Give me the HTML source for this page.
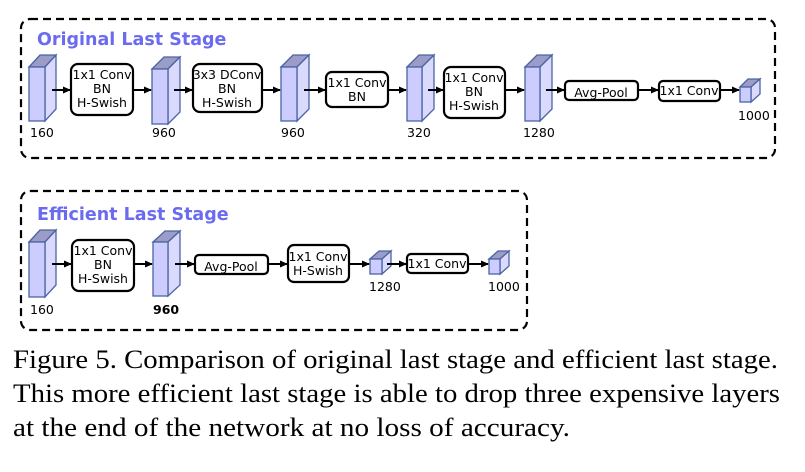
<!DOCTYPE html>
<html><head><meta charset="utf-8"><style>
html,body{margin:0;padding:0;background:#fff;width:805px;height:472px;overflow:hidden}
svg{display:block}
.t{font-family:"DejaVu Sans","Liberation Sans",sans-serif;font-size:12.5px;fill:#000}
.ttl{font-family:"DejaVu Sans","Liberation Sans",sans-serif;font-size:17.5px;font-weight:bold;fill:#6b6bf0}
.cap{font-family:"Liberation Serif",serif;font-size:26px;fill:#000}
.bx{fill:#fff;stroke:#000;stroke-width:2.2}
.ln{stroke:#000;stroke-width:2}
.cf{fill:#ccccff;stroke:#4a64a0;stroke-width:1.3}
.ct{fill:#9c9cc8;stroke:#4a64a0;stroke-width:1.3}
.cr{fill:#dadaff;stroke:#4a64a0;stroke-width:1.3}
</style></head><body>
<svg width="805" height="472" viewBox="0 0 805 472">
<defs><marker id="a" markerWidth="8" markerHeight="8" refX="7" refY="4" orient="auto" markerUnits="userSpaceOnUse"><path d="M0,0.5 L8,4 L0,7.5 z" fill="#000"/></marker></defs>
<rect x="21" y="19" width="754" height="139" rx="9" fill="none" stroke="#000" stroke-width="2.2" stroke-dasharray="8,5"/>
<text class="ttl" x="37" y="45">Original Last Stage</text>
<g>
<polygon class="ct" points="29,67 40,55 56,55 45,67"/><polygon class="cr" points="45,67 56,55 56,109 45,121"/><rect class="cf" x="29" y="67" width="16" height="54"/>
<polygon class="ct" points="152,69 164,57 180,57 168,69"/><polygon class="cr" points="168,69 180,57 180,112 168,124"/><rect class="cf" x="152" y="69" width="16" height="55"/>
<polygon class="ct" points="281,67 293,55 309,55 297,67"/><polygon class="cr" points="297,67 309,55 309,109 297,121"/><rect class="cf" x="281" y="67" width="16" height="54"/>
<polygon class="ct" points="407,67 419,55 434,55 422,67"/><polygon class="cr" points="422,67 434,55 434,109 422,121"/><rect class="cf" x="407" y="67" width="15" height="54"/>
<polygon class="ct" points="525,67 537,55 552,55 540,67"/><polygon class="cr" points="540,67 552,55 552,109 540,121"/><rect class="cf" x="525" y="67" width="15" height="54"/>
<polygon class="ct" points="740,87 748,79 760,79 751,87"/><polygon class="cr" points="751,87 760,79 760,94 751,102"/><rect class="cf" x="740" y="87" width="11" height="15"/>
</g>
<line class="ln" x1="52" y1="90" x2="70" y2="90" marker-end="url(#a)"/>
<line class="ln" x1="133" y1="90" x2="151" y2="90" marker-end="url(#a)"/>
<line class="ln" x1="174" y1="90" x2="192" y2="90" marker-end="url(#a)"/>
<line class="ln" x1="262" y1="90" x2="280" y2="90" marker-end="url(#a)"/>
<line class="ln" x1="304" y1="90" x2="325" y2="90" marker-end="url(#a)"/>
<line class="ln" x1="388" y1="90" x2="406" y2="90" marker-end="url(#a)"/>
<line class="ln" x1="428" y1="90" x2="443" y2="90" marker-end="url(#a)"/>
<line class="ln" x1="505" y1="90" x2="524" y2="90" marker-end="url(#a)"/>
<line class="ln" x1="546" y1="90" x2="564" y2="90" marker-end="url(#a)"/>
<line class="ln" x1="638" y1="90" x2="658" y2="90" marker-end="url(#a)"/>
<line class="ln" x1="720" y1="90" x2="739" y2="90" marker-end="url(#a)"/>
<rect class="bx" x="71" y="64" width="62" height="51" rx="7"/>
<text class="t" x="102" y="79" text-anchor="middle">1x1 Conv</text><text class="t" x="102" y="93" text-anchor="middle">BN</text><text class="t" x="102" y="107" text-anchor="middle">H-Swish</text>
<rect class="bx" x="193" y="64" width="69" height="48" rx="7"/>
<text class="t" x="227" y="79" text-anchor="middle">3x3 DConv</text><text class="t" x="227" y="93" text-anchor="middle">BN</text><text class="t" x="227" y="107" text-anchor="middle">H-Swish</text>
<rect class="bx" x="326" y="72" width="62" height="35" rx="6"/>
<text class="t" x="357" y="87" text-anchor="middle">1x1 Conv</text><text class="t" x="357" y="101" text-anchor="middle">BN</text>
<rect class="bx" x="444" y="67" width="61" height="51" rx="7"/>
<text class="t" x="474" y="82" text-anchor="middle">1x1 Conv</text><text class="t" x="474" y="96" text-anchor="middle">BN</text><text class="t" x="474" y="110" text-anchor="middle">H-Swish</text>
<rect class="bx" x="565" y="81" width="73" height="19" rx="4"/>
<text class="t" x="601" y="97" text-anchor="middle">Avg-Pool</text>
<rect class="bx" x="659" y="81" width="61" height="20" rx="4"/>
<text class="t" x="689" y="95" text-anchor="middle">1x1 Conv</text>
<text class="t" x="30" y="137">160</text>
<text class="t" x="152" y="137">960</text>
<text class="t" x="281" y="137">960</text>
<text class="t" x="407" y="137">320</text>
<text class="t" x="523" y="137">1280</text>
<text class="t" x="738" y="120">1000</text>

<rect x="21" y="191" width="506" height="139" rx="9" fill="none" stroke="#000" stroke-width="2.2" stroke-dasharray="8,5"/>
<text class="ttl" x="37" y="220">Efficient Last Stage</text>
<polygon class="ct" points="29,242 40,230 56,230 45,242"/><polygon class="cr" points="45,242 56,230 56,285 45,297"/><rect class="cf" x="29" y="242" width="16" height="55"/>
<polygon class="ct" points="153,242 165,231 180,231 168,242"/><polygon class="cr" points="168,242 180,231 180,285 168,296"/><rect class="cf" x="153" y="242" width="15" height="54"/>
<polygon class="ct" points="370,259 379,251 391,251 382,259"/><polygon class="cr" points="382,259 391,251 391,266 382,274"/><rect class="cf" x="370" y="259" width="12" height="15"/>
<polygon class="ct" points="489,259 498,251 509,251 500,259"/><polygon class="cr" points="500,259 509,251 509,266 500,274"/><rect class="cf" x="489" y="259" width="11" height="15"/>
<line class="ln" x1="52" y1="264" x2="71" y2="264" marker-end="url(#a)"/>
<line class="ln" x1="134" y1="264" x2="152" y2="264" marker-end="url(#a)"/>
<line class="ln" x1="175" y1="264" x2="194" y2="264" marker-end="url(#a)"/>
<line class="ln" x1="268" y1="264" x2="287" y2="264" marker-end="url(#a)"/>
<line class="ln" x1="349" y1="264" x2="369" y2="264" marker-end="url(#a)"/>
<line class="ln" x1="387" y1="264" x2="406" y2="264" marker-end="url(#a)"/>
<line class="ln" x1="468" y1="264" x2="488" y2="264" marker-end="url(#a)"/>
<rect class="bx" x="72" y="240" width="62" height="51" rx="7"/>
<text class="t" x="103" y="255" text-anchor="middle">1x1 Conv</text><text class="t" x="103" y="269" text-anchor="middle">BN</text><text class="t" x="103" y="283" text-anchor="middle">H-Swish</text>
<rect class="bx" x="195" y="255" width="73" height="19" rx="4"/>
<text class="t" x="231" y="271" text-anchor="middle">Avg-Pool</text>
<rect class="bx" x="288" y="245" width="61" height="37" rx="6"/>
<text class="t" x="318" y="261" text-anchor="middle">1x1 Conv</text><text class="t" x="318" y="275" text-anchor="middle">H-Swish</text>
<rect class="bx" x="407" y="254" width="61" height="19" rx="4"/>
<text class="t" x="437" y="268" text-anchor="middle">1x1 Conv</text>
<text class="t" x="30" y="314">160</text>
<text class="t" x="153" y="314" font-weight="bold">960</text>
<text class="t" x="369" y="291">1280</text>
<text class="t" x="488" y="291">1000</text>

<text class="cap" x="13" y="368" textLength="765" lengthAdjust="spacingAndGlyphs">Figure 5. Comparison of original last stage and efficient last stage.</text>
<text class="cap" x="13" y="402" textLength="767" lengthAdjust="spacingAndGlyphs">This more efficient last stage is able to drop three expensive layers</text>
<text class="cap" x="13" y="436" textLength="557" lengthAdjust="spacingAndGlyphs">at the end of the network at no loss of accuracy.</text>
</svg>
</body></html>
